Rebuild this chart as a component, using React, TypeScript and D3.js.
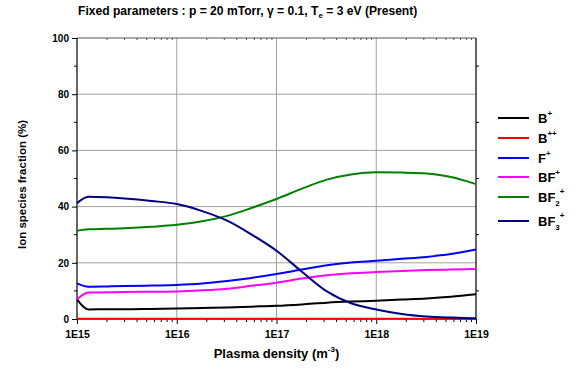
import React, { useEffect, useRef } from 'react';
import * as d3 from 'd3';

// plasma density (m^-3)
const densities = [1e15, 1.3e15, 2e15, 3e15, 5.6e15, 1e16, 1.8e16, 3.2e16, 5.6e16, 1e17, 1.8e17, 3.2e17, 5.6e17, 1e18, 1.8e18, 3.2e18, 5.6e18, 1e19];

const bPlus = [7.0, 3.4, 3.5, 3.5, 3.6, 3.7, 3.9, 4.1, 4.4, 4.7, 5.2, 5.8, 6.2, 6.5, 6.9, 7.3, 7.9, 8.8];
const bPlusPlus = [0.05, 0.05, 0.05, 0.05, 0.05, 0.05, 0.05, 0.05, 0.05, 0.05, 0.05, 0.05, 0.05, 0.05, 0.05, 0.05, 0.05, 0.05];
const fPlus = [12.7, 11.5, 11.6, 11.7, 11.9, 12.1, 12.6, 13.5, 14.6, 16.0, 17.6, 19.1, 20.1, 20.7, 21.4, 22.1, 23.1, 24.7];
const bfPlus = [7.0, 9.4, 9.5, 9.6, 9.7, 9.8, 10.2, 10.8, 11.8, 12.9, 14.4, 15.6, 16.3, 16.7, 17.1, 17.4, 17.6, 17.8];
const bf2Plus = [31.4, 31.9, 32.1, 32.3, 32.8, 33.5, 34.8, 36.7, 39.5, 42.7, 46.4, 49.6, 51.4, 52.2, 52.1, 51.8, 50.5, 48.0];
const bf3Plus = [41.2, 43.5, 43.3, 42.9, 42.0, 40.9, 38.4, 35.0, 30.1, 24.3, 16.8, 9.8, 5.6, 3.4, 1.8, 0.9, 0.5, 0.25];

const xTicks = [1e15, 1e16, 1e17, 1e18, 1e19];
const xTickLabels = ['1E15', '1E16', '1E17', '1E18', '1E19'];
const yTicks = [0, 20, 40, 60, 80, 100];

const series = [
  { base: 'B', sup: '+', sub: '', values: bPlus, color: '#000000' },
  { base: 'B', sup: '++', sub: '', values: bPlusPlus, color: '#ff0000' },
  { base: 'F', sup: '+', sub: '', values: fPlus, color: '#0000ff' },
  { base: 'BF', sup: '+', sub: '', values: bfPlus, color: '#ff00ff' },
  { base: 'BF', sup: '+', sub: '2', values: bf2Plus, color: '#008000' },
  { base: 'BF', sup: '+', sub: '3', values: bf3Plus, color: '#000080' },
];

const W = 579;
const H = 372;
const m = { top: 38, right: 103, bottom: 53, left: 77 };
const font = 'Arial, "Liberation Sans", sans-serif';

const App = () => {
  const ref = useRef<SVGSVGElement>(null);

  useEffect(() => {
    const svg = d3.select(ref.current);
    svg.selectAll('*').remove();

    const x = d3.scaleLog().domain([1e15, 1e19]).range([m.left, W - m.right]);
    const y = d3.scaleLinear().domain([0, 100]).range([H - m.bottom, m.top]);
    const [x0, x1] = x.range();
    const [y0, y1] = y.range();

    const g = svg.append('g').attr('font-family', font).attr('font-weight', 'bold');

    // grid
    g.append('g')
      .selectAll('line')
      .data(xTicks.slice(1, -1))
      .join('line')
      .attr('x1', (d) => x(d)).attr('x2', (d) => x(d))
      .attr('y1', y0).attr('y2', y1)
      .attr('stroke', '#a0a0a0').attr('stroke-width', 1);
    g.append('g')
      .selectAll('line')
      .data(yTicks.slice(1, -1))
      .join('line')
      .attr('x1', x0).attr('x2', x1)
      .attr('y1', (d) => y(d)).attr('y2', (d) => y(d))
      .attr('stroke', '#a0a0a0').attr('stroke-width', 1);

    // minor ticks on x (log)
    const minorX: number[] = [];
    for (let e = 15; e < 19; e++) for (let k = 2; k <= 9; k++) minorX.push(k * Math.pow(10, e));

    const bottomAxis = d3.axisBottom(x).tickValues(xTicks).tickSize(5).tickFormat((d, i) => xTickLabels[i]);
    const bAx = g.append('g').attr('transform', `translate(0,${y0})`).call(bottomAxis);
    bAx.select('.domain').remove();
    bAx.selectAll('text').attr('font-size', 10.5).attr('font-family', font).attr('font-weight', 'bold').attr('dy', '1.05em').attr('fill', '#000');
    g.append('g')
      .selectAll('line')
      .data(minorX)
      .join('line')
      .attr('x1', (d) => x(d)).attr('x2', (d) => x(d))
      .attr('y1', y0).attr('y2', y0 + 3)
      .attr('stroke', '#000');

    const leftAxis = d3.axisLeft(y).tickValues(yTicks).tickSize(5);
    const lAx = g.append('g').attr('transform', `translate(${x0},0)`).call(leftAxis);
    lAx.select('.domain').remove();
    lAx.selectAll('text').attr('font-size', 10).attr('font-family', font).attr('font-weight', 'bold').attr('fill', '#000');
    const minorY = d3.range(10, 100, 20);
    g.append('g')
      .selectAll('line')
      .data(minorY)
      .join('line')
      .attr('x1', x0 - 3).attr('x2', x0)
      .attr('y1', (d) => y(d)).attr('y2', (d) => y(d))
      .attr('stroke', '#000');

    // right and top ticks
    g.append('g')
      .selectAll('line')
      .data(minorY)
      .join('line')
      .attr('x1', x1).attr('x2', x1 + 3)
      .attr('y1', (d) => y(d)).attr('y2', (d) => y(d))
      .attr('stroke', '#000');
    g.append('g')
      .selectAll('line')
      .data(minorX)
      .join('line')
      .attr('x1', (d) => x(d)).attr('x2', (d) => x(d))
      .attr('y1', y1).attr('y2', y1 + 2)
      .attr('stroke', '#555');

    // frame
    g.append('line').attr('x1', x0).attr('x2', x1).attr('y1', y1).attr('y2', y1).attr('stroke', '#555').attr('stroke-width', 1.2);
    g.append('line').attr('x1', x0).attr('x2', x1).attr('y1', y0).attr('y2', y0).attr('stroke', '#000').attr('stroke-width', 1.2);
    g.append('line').attr('x1', x0).attr('x2', x0).attr('y1', y0).attr('y2', y1).attr('stroke', '#000').attr('stroke-width', 1.2);
    g.append('line').attr('x1', x1).attr('x2', x1).attr('y1', y0).attr('y2', y1).attr('stroke', '#000').attr('stroke-width', 1.2);

    // lines
    const line = d3
      .line<number>()
      .x((d, i) => x(densities[i]))
      .y((d) => y(d))
      .curve(d3.curveMonotoneX);
    g.append('g')
      .selectAll('path')
      .data(series)
      .join('path')
      .attr('d', (s) => line(s.values))
      .attr('fill', 'none')
      .attr('stroke', (s) => s.color)
      .attr('stroke-width', 2);

    // legend
    const legendY = [118, 138, 158, 177, 197, 221];
    const leg = g.append('g').selectAll('g').data(series).join('g')
      .attr('transform', (s, i) => `translate(498,${legendY[i]})`);
    leg.append('line').attr('x1', 0).attr('x2', 31).attr('stroke', (s) => s.color).attr('stroke-width', 2);
    const lt = leg.append('text').attr('x', 40).attr('y', 5).attr('font-size', 13).attr('fill', '#000');
    lt.append('tspan').text((s) => s.base);
    lt.append('tspan').attr('font-size', 8).attr('dy', (s) => (s.sub ? 4 : 0)).text((s) => s.sub);
    lt.append('tspan').attr('font-size', 8).attr('dy', (s) => (s.sub ? -12 : -7)).text((s) => s.sup);

    // title
    const t = g.append('text').attr('x', 78).attr('y', 15).attr('font-size', 12.1).attr('fill', '#000');
    t.append('tspan').text('Fixed parameters : p = 20 mTorr, γ = 0.1, T');
    t.append('tspan').attr('font-size', 8).attr('dy', 3).text('e');
    t.append('tspan').attr('dy', -3).text(' = 3 eV (Present)');

    // axis titles
    const xt = g.append('text').attr('x', (x0 + x1) / 2).attr('y', 358).attr('text-anchor', 'middle').attr('font-size', 13).attr('fill', '#000');
    xt.append('tspan').text('Plasma density (m');
    xt.append('tspan').attr('font-size', 8).attr('dy', -6).text('-3');
    xt.append('tspan').attr('dy', 6).text(')');

    g.append('text')
      .attr('transform', `translate(26,${(y0 + y1) / 2 + 6}) rotate(-90)`)
      .attr('text-anchor', 'middle')
      .attr('font-size', 11.5)
      .attr('fill', '#000')
      .text('Ion species fraction (%)');
  }, []);

  return <svg ref={ref} width={W} height={H} style={{ position: 'absolute', left: 0, top: 0, background: '#fff' }} />;
};

export default App;
